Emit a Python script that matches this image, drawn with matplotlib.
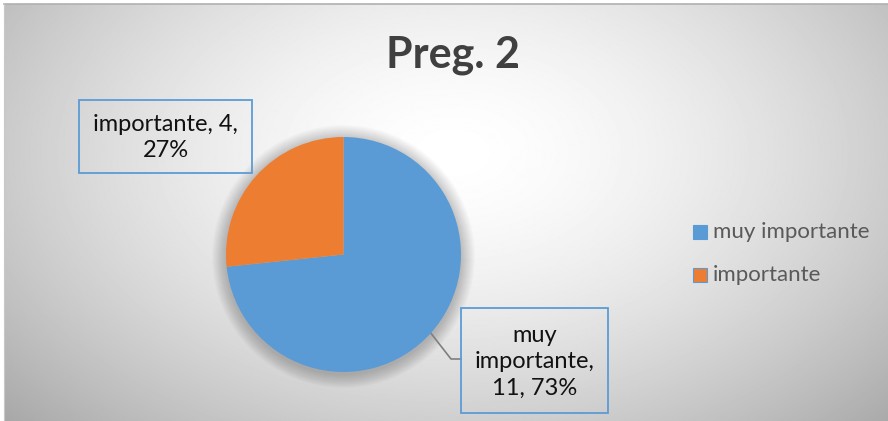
import numpy as np
import matplotlib.pyplot as plt
from matplotlib.patches import Rectangle, Circle

plt.rcParams['font.family'] = ['Lato', 'DejaVu Sans']

W, H = 888, 421
title = "Preg. 2"
categories = ["muy importante", "importante"]
values = [11, 4]
colors = ["#5B9BD5", "#ED7D31"]

fig = plt.figure(figsize=(W / 100, H / 100), dpi=100)

# background in pixel coords
bg = fig.add_axes([0, 0, 1, 1])
bg.set_xlim(0, W)
bg.set_ylim(H, 0)
bg.axis("off")
yy, xx = np.mgrid[0:H, 0:W]
r = np.sqrt(((xx - 450) / 520.0) ** 2 + ((yy - 150) / 330.0) ** 2)
shade = np.clip(1.0 - 0.26 * r ** 1.6, 0, 1)
bg.imshow(shade, cmap="gray", vmin=0, vmax=1, extent=(4, W, H, 4), zorder=0)
bg.plot([4, W], [4, 4], color="#b0b0b0", lw=1.2, zorder=1)
bg.plot([4, 4], [4, H], color="#c8c8c8", lw=0.8, zorder=1)

cx, cy, rad = 343.5, 254.5, 117.5

# soft shadow around pie
for i in range(14):
    bg.add_patch(Circle((cx, cy + 2), rad + 14 - i, color="#000000", alpha=0.014, lw=0, zorder=2))

bg.text(452.5, 55, title, ha="center", va="center", fontsize=31, fontweight="bold", color="#404040")

# pie
ax = fig.add_axes([(cx - rad) / W, (H - cy - rad) / H, 2 * rad / W, 2 * rad / H])
wedges, _ = ax.pie(values, colors=colors, startangle=90, counterclock=False,
                   wedgeprops=dict(linewidth=0))
ax.set_xlim(-1, 1)
ax.set_ylim(-1, 1)
ax.axis("off")

total = sum(values)
label_boxes = [(461, 308, 147, 105), (79, 100, 173, 73)]
for i, (cat, v) in enumerate(zip(categories, values)):
    pct = round(100 * v / total)
    if i == 0:
        txt = "muy\nimportante,\n%d, %d%%" % (v, pct)
    else:
        txt = "%s, %d,\n%d%%" % (cat, v, pct)
    x0, y0, bw, bh = label_boxes[i]
    bg.add_patch(Rectangle((x0, y0), bw, bh, fill=False, edgecolor="#5B9BD5", lw=1.3, zorder=5))
    bg.text(x0 + bw / 2, y0 + bh / 2 + 1, txt, ha="center", va="center", fontsize=17,
            color="#111111", linespacing=1.32, zorder=6)

# leader line for the big slice
w0 = wedges[0]
mid = np.deg2rad((w0.theta1 + w0.theta2) / 2)
px, py = cx + rad * np.cos(mid), cy - rad * np.sin(mid)
bg.plot([px, 451, 461], [py, 359, 359], color="#7f7f7f", lw=1.2, zorder=4)

# legend
for i, cat in enumerate(categories):
    ly = 232 + i * 43
    bg.add_patch(Rectangle((693, ly - 7), 14, 14, facecolor=colors[i], edgecolor="#5B9BD5", lw=0.8, zorder=5))
    bg.text(713, ly, cat, ha="left", va="center", fontsize=16, color="#595959", zorder=6)

fig.savefig("out.png", dpi=100)
